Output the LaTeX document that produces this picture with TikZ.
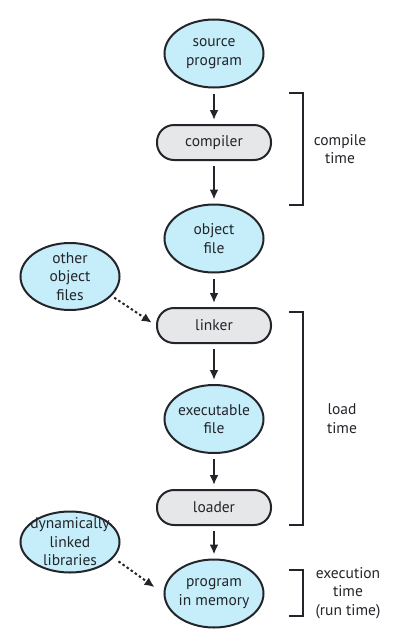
\documentclass[tikz,border=0pt]{standalone}
\usepackage{fontspec}
\setmainfont{PT Sans}
\usetikzlibrary{shapes.geometric,arrows.meta}
\definecolor{filecyan}{RGB}{197,237,250}
\definecolor{toolgray}{RGB}{230,231,232}
\definecolor{inkline}{RGB}{35,37,42}
\tikzstyle{filenode}=[ellipse,draw=inkline,line width=2pt,fill=filecyan,minimum width=99pt,minimum height=68pt,inner sep=-8pt,align=center,text=inkline]
\tikzstyle{toolnode}=[rectangle,rounded corners=17pt,draw=inkline,line width=2pt,fill=toolgray,minimum width=114pt,minimum height=35pt,inner sep=0pt,text=inkline]
\tikzstyle{flow}=[-{Latex[length=10pt,width=9pt]},line width=2pt,draw=inkline,shorten <=5pt,shorten >=4pt]
\tikzstyle{linkflow}=[flow,dash pattern=on 2.5pt off 2.5pt]
\newcommand{\drawtimebracket}[5]{% Syntax: {name}{top y}{bottom y}{label x}{label}
\draw[line width=2pt,draw=inkline] (289,#2) -- (303,#2) -- (303,#3) -- (289,#3);
\pgfmathsetmacro{\midy}{(#2+#3)/2}
\node[align=center,text=inkline] (#1) at (#4,\midy) {#5};
}

\begin{document}
\begin{tikzpicture}[x=1pt,y=-1pt,font=\fontsize{15.5pt}{18.5pt}\selectfont]
\useasboundingbox (0,0) rectangle (408,641);
% main column
\node[filenode] (source) at (214,53.5) {source\\program};
\node[toolnode] (compiler) at (214,142.5) {compiler};
\node[filenode] (objfile) at (214,238.5) {object\\file};
\node[toolnode] (linker) at (214,325.5) {linker};
\node[filenode] (execfile) at (214,419) {executable\\file};
\node[toolnode] (loader) at (214,507.5) {loader};
\node[filenode] (progmem) at (214,593.5) {program\\in memory};
% side inputs
\node[filenode,minimum height=67pt] (otherobj) at (70,276.5) {other\\object\\files};
\node[filenode,minimum height=61pt] (dynlib) at (70,542) {dynamically\\linked\\libraries};

\draw[flow] (source) -- (compiler);
\draw[flow] (compiler) -- (objfile);
\draw[flow] (objfile) -- (linker);
\draw[flow] (linker) -- (execfile);
\draw[flow] (execfile) -- (loader);
\draw[flow] (loader) -- (progmem);
\draw[linkflow,shorten <=3pt,shorten >=5pt] (otherobj.-25) -- (linker.west);
\draw[linkflow,shorten <=6pt,shorten >=11pt] (dynlib.-20) -- (progmem.west);

% time brackets
\drawtimebracket{compiletime}{93}{205}{340}{compile\\time}
\drawtimebracket{loadtime}{312}{525}{342}{load\\time}
\drawtimebracket{exectime}{570}{616}{348}{execution\\time\\(run time)}
\end{tikzpicture}
\end{document}
